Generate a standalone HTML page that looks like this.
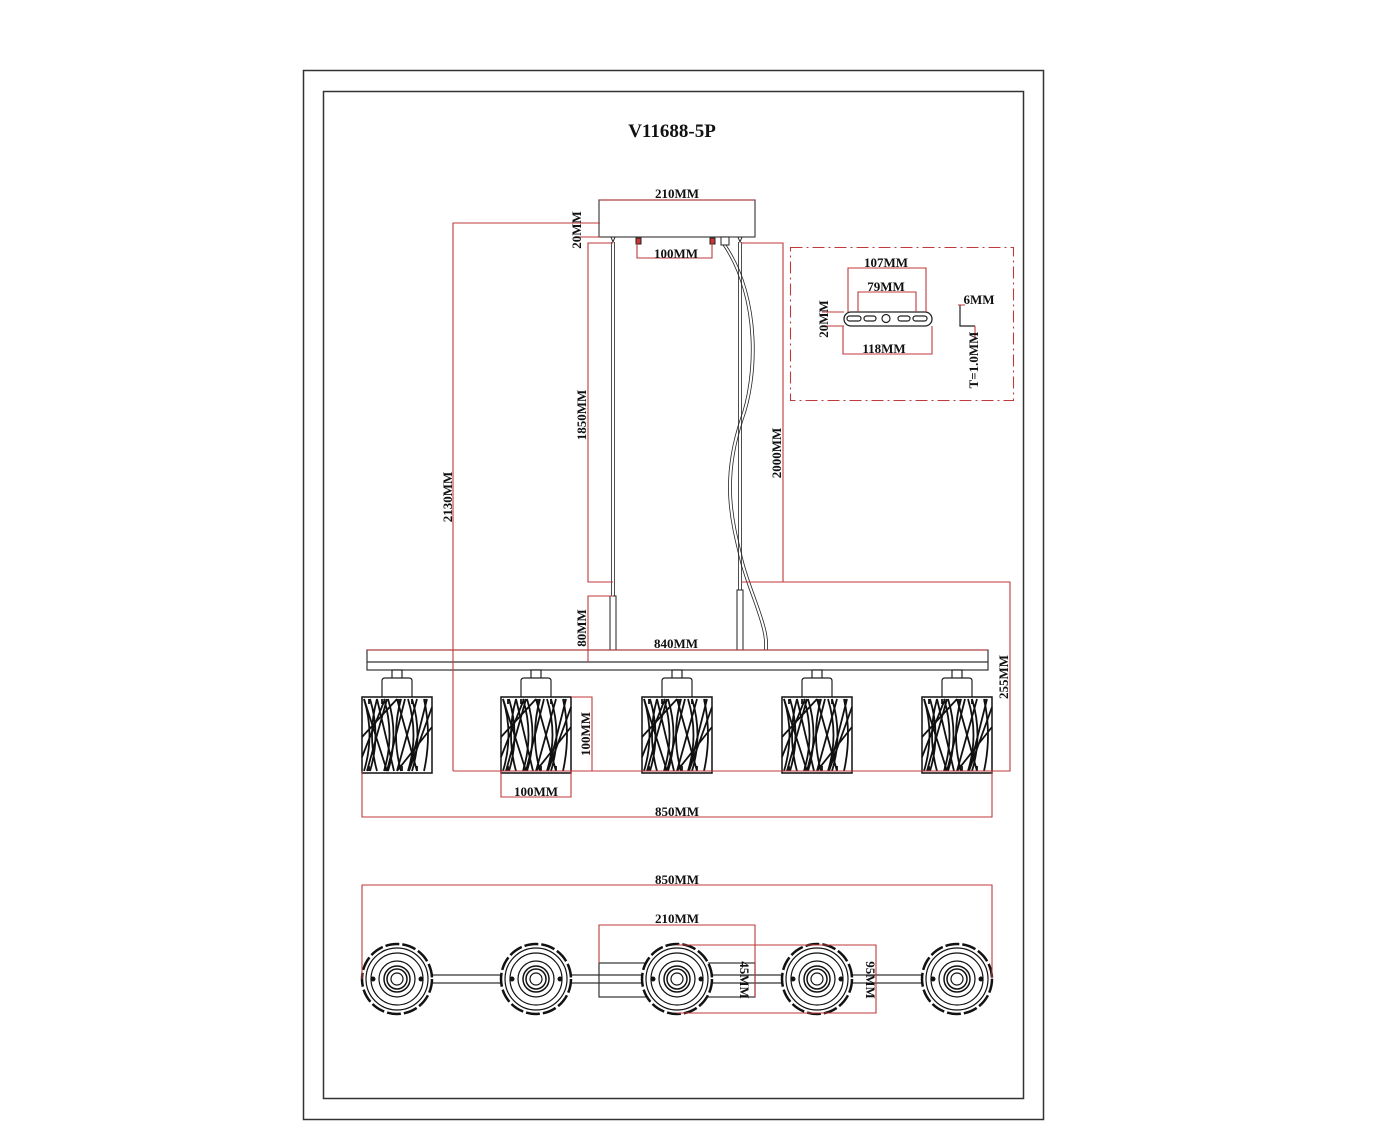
<!DOCTYPE html>
<html><head><style>
html,body{margin:0;padding:0;background:#fff;}
svg text{font-family:"Liberation Serif",serif;font-weight:bold;}
</style></head><body>
<svg width="1384" height="1132" viewBox="0 0 1384 1132" xmlns="http://www.w3.org/2000/svg">
<defs>
<g id="shade">
 <rect x="-5" y="-27" width="10" height="9" fill="#fff" stroke="#222" stroke-width="1.2"/>
 <path d="M-15,0 V-16 Q-15,-19 -12,-19 H12 Q15,-19 15,-16 V0" fill="#fff" stroke="#222" stroke-width="1.2"/>
 <rect x="-35" y="0" width="70" height="76" fill="#fff" stroke="#111" stroke-width="1.5"/>
 <g stroke="#111" stroke-width="1.8" fill="none">
  <path d="M-33,2 Q-22,38 -33,74 M-27,2 Q-16,38 -27,74 M-13,2 Q-2,38 -13,74 M-9,2 Q2,38 -9,74 M11,2 Q22,38 11,74 M15,2 Q26,38 15,74 M27,2 Q35,38 27,74 M-20,2 Q-30,38 -20,74 M4,2 Q-6,38 4,74"/>
  <path d="M-33,2 L-10,74 M-20,2 L-3,74 M-10,2 L-30,74 M0,2 L20,74 M8,2 L-10,74 M20,2 L0,74 M30,2 L12,74 M-35,40 L0,2 M0,74 L35,30 M-35,60 L-12,2 M12,74 L35,10"/>
  <path d="M-28,2 v5 M-15,2 v5 M2,2 v5 M15,2 v5 M28,2 v5 M-28,74 v-5 M-12,74 v-5 M5,74 v-5 M20,74 v-5"/>
 </g>
</g>
<g id="rose">
 <circle r="35" fill="#fff" stroke="#111" stroke-width="2.5" stroke-dasharray="14 3"/>
 <circle r="31" fill="none" stroke="#111" stroke-width="1.2"/>
 <circle r="26" fill="none" stroke="#111" stroke-width="1.2"/>
 <circle r="18" fill="none" stroke="#111" stroke-width="1.2"/>
 <circle r="13" fill="none" stroke="#111" stroke-width="1.5"/>
 <circle r="10" fill="none" stroke="#111" stroke-width="1.5"/>
 <circle r="6" fill="none" stroke="#111" stroke-width="1.2"/>
 <circle cx="-24" r="2.5" fill="#111"/><circle cx="24" r="2.5" fill="#111"/>
</g>
</defs>

<rect x="303.5" y="70.5" width="740" height="1049" fill="none" stroke="#333" stroke-width="1.5"/>
<rect x="323.5" y="91.5" width="700" height="1007" fill="none" stroke="#333" stroke-width="1.5"/>
<text x="672" y="137" font-size="19" text-anchor="middle" fill="#111">V11688-5P</text>

<!-- canopy -->
<rect x="599" y="200" width="156" height="37" fill="#fff" stroke="#444" stroke-width="1.2"/>
<g fill="#c33" stroke="#222"><rect x="636" y="238" width="5" height="6"/><rect x="710" y="238" width="5" height="6"/></g>
<rect x="721" y="237" width="8" height="8" fill="#fff" stroke="#222"/>
<path d="M611,237 l2,5 l2,-5 M738,237 l2,5 l2,-5" stroke="#222" fill="none"/>
<!-- rods & cable -->
<g stroke="#222" stroke-width="0.8" fill="none">
<line x1="611.5" y1="242" x2="611.5" y2="662"/><line x1="614.5" y1="242" x2="614.5" y2="662"/>
<line x1="738.5" y1="242" x2="738.5" y2="662"/><line x1="741.5" y1="242" x2="741.5" y2="662"/>
<path d="M723,245 C760,300 755,380 740,420 C720,480 730,520 740,560 C750,600 775,640 760,662"/>
<path d="M726,245 C763,300 758,380 743,420 C723,480 733,520 743,560 C753,600 778,640 763,662"/>
</g>
<g stroke="#222" stroke-width="1" fill="#fff">
<rect x="610" y="596" width="6" height="66"/><rect x="737" y="590" width="6" height="72"/>
</g>
<!-- bar -->
<rect x="367" y="650" width="621" height="20" fill="#fff" stroke="#333" stroke-width="1.2"/>
<line x1="367" y1="662" x2="988" y2="662" stroke="#333" stroke-width="1.2"/>

<use href="#shade" x="397" y="697"/><use href="#shade" x="536" y="697"/><use href="#shade" x="677" y="697"/><use href="#shade" x="817" y="697"/><use href="#shade" x="957" y="697"/>

<!-- red dims top view -->
<g stroke="#c0393b" stroke-width="1.1" fill="none">
<path d="M599,200 H755"/>
<path d="M453,771 V223 H600 M575,237 H600"/>
<path d="M637,243 V258 H712 V243"/>
<path d="M613,243 H588 V582 H613"/>
<path d="M613,596 H588 V662"/>
<path d="M741,243 H783 V582"/>
<path d="M367,650 H988"/>
<path d="M741,582 H1010 V771 H453"/>
<path d="M571,697 H592 V771"/>
<path d="M501,771 V797 H571 V771"/>
<path d="M362,771 V817 H992 V771"/>
</g>
<g fill="#111" font-size="13">
<text x="677" y="198" text-anchor="middle">210MM</text>
<text x="676" y="258" text-anchor="middle">100MM</text>
<text x="676" y="648" text-anchor="middle">840MM</text>
<text x="536" y="796" text-anchor="middle">100MM</text>
<text x="677" y="816" text-anchor="middle">850MM</text>
<text transform="translate(581,230) rotate(-90)" text-anchor="middle">20MM</text>
<text transform="translate(586,415) rotate(-90)" text-anchor="middle">1850MM</text>
<text transform="translate(586,628) rotate(-90)" text-anchor="middle">80MM</text>
<text transform="translate(781,453) rotate(-90)" text-anchor="middle">2000MM</text>
<text transform="translate(452,497) rotate(-90)" text-anchor="middle">2130MM</text>
<text transform="translate(1008,677) rotate(-90)" text-anchor="middle">255MM</text>
<text transform="translate(590,734) rotate(-90)" text-anchor="middle">100MM</text>
</g>

<!-- bracket box -->
<rect x="790.5" y="247.5" width="223" height="153" fill="none" stroke="#c0393b" stroke-width="1.1" stroke-dasharray="12 4 2 4"/>
<rect x="844" y="312" width="88" height="14" rx="7" fill="#fff" stroke="#222" stroke-width="1.3"/>
<g fill="none" stroke="#222" stroke-width="1.2"><rect x="847" y="316" width="14" height="5" rx="2.5"/><rect x="864" y="316" width="12" height="5" rx="2.5"/><circle cx="886" cy="318.5" r="4"/><rect x="898" y="316" width="12" height="5" rx="2.5"/><rect x="913" y="316" width="14" height="5" rx="2.5"/>
<path d="M960,305 V326 H975"/></g>
<g stroke="#c0393b" stroke-width="1.1" fill="none">
<path d="M848,312 V268 H926 V312"/>
<path d="M858,312 V292 H916 V312"/>
<path d="M844,312 H822 M844,326 H822"/>
<path d="M843,326 V354 H932 V326"/>
<path d="M958,305 H965 M975,326 V338"/>
</g>
<g fill="#111" font-size="13">
<text x="886" y="267" text-anchor="middle">107MM</text>
<text x="886" y="291" text-anchor="middle">79MM</text>
<text x="884" y="353" text-anchor="middle">118MM</text>
<text x="979" y="304" text-anchor="middle">6MM</text>
<text transform="translate(828,319) rotate(-90)" text-anchor="middle">20MM</text>
<text transform="translate(978,360) rotate(-90)" text-anchor="middle">T=1.0MM</text>
</g>

<!-- bottom view -->
<rect x="599" y="963" width="156" height="34" fill="#fff" stroke="#333" stroke-width="1.2"/>
<path d="M397,975 H957 M397,983 H957" stroke="#333" stroke-width="1.2"/>
<use href="#rose" x="397" y="979"/><use href="#rose" x="536" y="979"/><use href="#rose" x="677" y="979"/><use href="#rose" x="817" y="979"/><use href="#rose" x="957" y="979"/>
<g stroke="#c0393b" stroke-width="1.1" fill="none">
<path d="M362,979 V885 H992 V979"/>
<path d="M599,963 V925 H755 V997"/>
<path d="M677,945 H876 V1013 H677"/>
</g>
<g fill="#111" font-size="13">
<text x="677" y="884" text-anchor="middle">850MM</text>
<text x="677" y="923" text-anchor="middle">210MM</text>
<text transform="translate(740,980) rotate(90)" text-anchor="middle">45MM</text>
<text transform="translate(866,980) rotate(90)" text-anchor="middle">95MM</text>
</g>
</svg>
</body></html>
